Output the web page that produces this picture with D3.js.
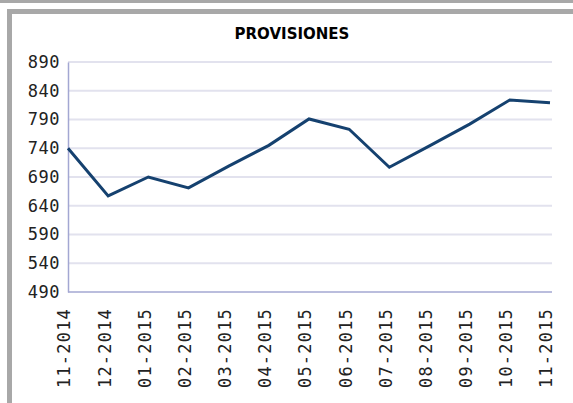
<!DOCTYPE html>
<html>
<head>
<meta charset="utf-8">
<script src="https://cdn.jsdelivr.net/npm/d3@7"></script>
<style>
  body { margin: 0; background: #fff; }
  svg { display: block; }
</style>
</head>
<body>
<div id="container"></div>
<script>
/* CONSTANTS AND GLOBALS */
const width = 573,
  height = 403,
  margin = { top: 62, bottom: 111, left: 68, right: 21 };

/* DATA */
const months = ["11-2014", "12-2014", "01-2015", "02-2015", "03-2015", "04-2015", "05-2015",
  "06-2015", "07-2015", "08-2015", "09-2015", "10-2015", "11-2015"];
const provisiones = [740, 657, 690, 671, 709, 745, 791, 773, 707, 744, 782, 824, 819];
const yTicks = [490, 540, 590, 640, 690, 740, 790, 840, 890];

// SCALES
const xScale = d3.scalePoint()
  .domain(months)
  .range([margin.left, width - margin.right - 2]);

const yScale = d3.scaleLinear()
  .domain([490, 890])
  .range([height - margin.bottom, margin.top]);

// SVG
const svg = d3.select("#container")
  .append("svg")
  .attr("width", width)
  .attr("height", height);

// frame
svg.append("rect").attr("x", 0).attr("y", 0).attr("width", width).attr("height", 3).attr("fill", "#a8a8a8");
svg.append("rect").attr("x", 7).attr("y", 9).attr("width", width - 7).attr("height", 5).attr("fill", "#a8a8a8");
svg.append("rect").attr("x", 7).attr("y", 9).attr("width", 5).attr("height", height - 9).attr("fill", "#a8a8a8");

// title
svg.append("text")
  .attr("x", 292)
  .attr("y", 39)
  .attr("text-anchor", "middle")
  .attr("font-family", "DejaVu Sans")
  .attr("font-weight", "bold")
  .attr("font-size", 15)
  .attr("fill", "#000")
  .text("PROVISIONES");

// GRID
svg.append("g")
  .selectAll("line")
  .data(yTicks.slice(1))
  .join("line")
    .attr("x1", margin.left)
    .attr("x2", width - margin.right)
    .attr("y1", d => yScale(d))
    .attr("y2", d => yScale(d))
    .attr("stroke", "#e2e2ee")
    .attr("stroke-width", 2);

// AXES
const yAxis = d3.axisLeft(yScale).tickValues(yTicks).tickSize(0).tickPadding(8);
svg.append("g")
  .attr("transform", `translate(${margin.left},0)`)
  .call(yAxis)
  .call(g => g.select(".domain").attr("stroke", "#a3a7d2").attr("stroke-width", 1.5))
  .call(g => g.selectAll("text")
    .attr("font-family", "DejaVu Sans Mono")
    .attr("font-size", 17)
    .attr("letter-spacing", 0.5)
    .attr("fill", "#222"));

const xAxis = d3.axisBottom(xScale).tickSize(0).tickPadding(0);
svg.append("g")
  .attr("transform", `translate(0,${height - margin.bottom})`)
  .call(xAxis)
  .call(g => g.select(".domain").attr("d", `M${margin.left},0H${width - margin.right}`)
    .attr("stroke", "#a3a7d2").attr("stroke-width", 1.5))
  .call(g => g.selectAll("text")
    .attr("font-family", "DejaVu Sans Mono")
    .attr("font-size", 17)
    .attr("letter-spacing", 1.2)
    .attr("fill", "#222")
    .attr("text-anchor", "end")
    .attr("transform", "translate(-4,16) rotate(-90)")
    .attr("dy", "0.35em")
    .attr("y", 0)
    .attr("x", 0));

// LINE
const lineGen = d3.line()
  .x((d, i) => xScale(months[i]))
  .y(d => yScale(d));

svg.append("path")
  .datum(provisiones)
  .attr("d", lineGen)
  .attr("fill", "none")
  .attr("stroke", "#15416f")
  .attr("stroke-width", 3)
  .attr("stroke-linejoin", "miter");
</script>
</body>
</html>
